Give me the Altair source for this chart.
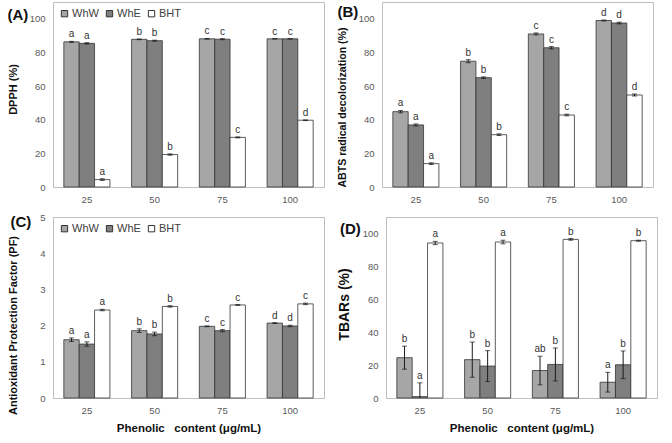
import altair as alt
import pandas as pd

concentrations = ["25", "50", "75", "100"]
extracts = ["WhW", "WhE", "BHT"]
bar_colors = ["#a6a6a6", "#7f7f7f", "#ffffff"]

# (A) DPPH radical scavenging (%)
dpph_whw = [86.3, 87.8, 88.1, 88.1]
dpph_whe = [85.4, 87.0, 87.9, 88.1]
dpph_bht = [4.4, 19.3, 29.5, 39.7]
dpph_whw_sd = [0.3, 0.2, 0.2, 0.1]
dpph_whe_sd = [0.4, 0.3, 0.3, 0.1]
dpph_bht_sd = [0.5, 0.4, 0.3, 0.2]
dpph_whw_sig = ["a", "b", "c", "c"]
dpph_whe_sig = ["a", "b", "c", "c"]
dpph_bht_sig = ["a", "b", "c", "d"]

# (B) ABTS radical decolorization (%)
abts_whw = [44.8, 74.8, 91.0, 99.0]
abts_whe = [36.9, 65.0, 82.8, 97.5]
abts_bht = [13.9, 31.1, 42.8, 54.7]
abts_whw_sd = [0.7, 0.9, 0.6, 0.3]
abts_whe_sd = [0.6, 0.5, 0.7, 0.5]
abts_bht_sd = [0.5, 0.5, 0.5, 0.6]
abts_whw_sig = ["a", "b", "c", "d"]
abts_whe_sig = ["a", "b", "c", "d"]
abts_bht_sig = ["a", "b", "c", "d"]

# (C) Antioxidant protection factor
pf_whw = [1.61, 1.86, 1.98, 2.07]
pf_whe = [1.49, 1.77, 1.86, 1.99]
pf_bht = [2.43, 2.53, 2.57, 2.60]
pf_whw_sd = [0.05, 0.05, 0.01, 0.01]
pf_whe_sd = [0.06, 0.05, 0.03, 0.02]
pf_bht_sd = [0.02, 0.02, 0.01, 0.02]
pf_whw_sig = ["a", "b", "c", "d"]
pf_whe_sig = ["a", "b", "c", "d"]
pf_bht_sig = ["a", "b", "c", "c"]

# (D) TBARs (%)
tbars_whw = [24.5, 23.3, 16.7, 9.6]
tbars_whe = [0.8, 19.4, 20.4, 20.2]
tbars_bht = [94.2, 94.8, 96.4, 95.6]
tbars_whw_sd = [7.0, 10.7, 8.7, 6.0]
tbars_whe_sd = [8.4, 9.4, 10.0, 8.4]
tbars_bht_sd = [1.0, 1.1, 0.5, 0.3]
tbars_whw_sig = ["b", "b", "ab", "a"]
tbars_whe_sig = ["a", "b", "b", "b"]
tbars_bht_sig = ["a", "a", "b", "b"]

FONT = "Liberation Sans"
X_TITLE = "Phenolic\u00a0\u00a0 content (μg/mL)"


def long_table(means, sds, sigs):
    rows = []
    for ext, m, s, g in zip(extracts, means, sds, sigs):
        for c, mv, sv, gv in zip(concentrations, m, s, g):
            rows.append({"conc": c, "extract": ext, "mean": mv,
                         "lo": mv - sv, "hi": mv + sv, "sig": gv})
    return pd.DataFrame(rows)


def panel(df, y_title, y_title_size, y_title_center, y_max, y_ticks, tag, tag_dx,
          tag_offset, height, x_title=None):
    x_axis = alt.Axis(title=x_title, labelAngle=0, ticks=False, domain=False,
                      labelPadding=7, labelFontSize=9.5, labelColor="#595959",
                      labelFont=FONT, titleFont=FONT, titleFontSize=11.5,
                      titleFontWeight="bold", titleColor="#111111", titlePadding=8)
    x_enc = alt.X("conc:N", sort=concentrations, axis=x_axis,
                  scale=alt.Scale(paddingInner=0.32, paddingOuter=0.16))
    xo_enc = alt.XOffset("extract:N", sort=extracts,
                         scale=alt.Scale(paddingInner=0, paddingOuter=0))
    y_scale = alt.Scale(domain=[0, y_max], nice=False, zero=True)
    y_axis = alt.Axis(title=y_title, values=y_ticks, ticks=False, domain=False,
                      grid=False, labelPadding=8, labelFontSize=9.5,
                      labelColor="#595959", labelFont=FONT, titleFont=FONT,
                      titleFontSize=y_title_size, titleFontWeight="bold",
                      titleColor="#111111", minExtent=26, maxExtent=26,
                      titlePadding=8.5, titleY=y_title_center)

    base = alt.Chart(df)
    bars = base.mark_bar(stroke="#333333", strokeWidth=0.8).encode(
        x=x_enc, xOffset=xo_enc,
        y=alt.Y("mean:Q", scale=y_scale, axis=y_axis),
        color=alt.Color(
            "extract:N", sort=extracts,
            scale=alt.Scale(domain=extracts, range=bar_colors),
            legend=alt.Legend(
                orient="top-left", direction="horizontal", title=None,
                symbolType="square", symbolSize=40, symbolStrokeColor="#333333",
                symbolStrokeWidth=1, symbolOpacity=1, labelFontSize=11,
                labelFont=FONT, labelColor="#404040", columnPadding=5,
                labelOffset=2, offset=6, padding=0),
        ),
    )
    err = base.mark_rule(color="#1a1a1a", strokeWidth=1, clip=True).encode(
        x=x_enc, xOffset=xo_enc,
        y=alt.Y("lo:Q", scale=y_scale, axis=y_axis), y2="hi:Q")
    cap_hi = base.mark_tick(color="#1a1a1a", thickness=1, size=5, clip=True).encode(
        x=x_enc, xOffset=xo_enc, y=alt.Y("hi:Q", scale=y_scale, axis=y_axis))
    cap_lo = base.mark_tick(color="#1a1a1a", thickness=1, size=5, clip=True).encode(
        x=x_enc, xOffset=xo_enc, y=alt.Y("lo:Q", scale=y_scale, axis=y_axis))
    letters = base.mark_text(baseline="bottom", dy=-2, fontSize=10, font=FONT,
                             color="#333333").encode(
        x=x_enc, xOffset=xo_enc,
        y=alt.Y("hi:Q", scale=y_scale, axis=y_axis), text="sig:N")

    # panel tag, pulled down beside the top of the plot frame
    return alt.layer(bars, err, cap_hi, cap_lo, letters).properties(
        width=271, height=height,
        title=alt.TitleParams(tag, anchor="start", frame="bounds", fontSize=15,
                              fontWeight="bold", font=FONT, color="#111111",
                              offset=tag_offset, dx=tag_dx),
    )


pct_ticks = [0, 20, 40, 60, 80, 100]

chart_a = panel(long_table([dpph_whw, dpph_whe, dpph_bht],
                           [dpph_whw_sd, dpph_whe_sd, dpph_bht_sd],
                           [dpph_whw_sig, dpph_whe_sig, dpph_bht_sig]),
                "DPPH (%)", 11, 87, 110, pct_ticks, "(A)", 0, -21, 185)
chart_b = panel(long_table([abts_whw, abts_whe, abts_bht],
                           [abts_whw_sd, abts_whe_sd, abts_bht_sd],
                           [abts_whw_sig, abts_whe_sig, abts_bht_sig]),
                "ABTS radical decolorization (%)", 10.6, 105, 110, pct_ticks,
                "(B)", 0, -18, 185)
chart_c = panel(long_table([pf_whw, pf_whe, pf_bht],
                           [pf_whw_sd, pf_whe_sd, pf_bht_sd],
                           [pf_whw_sig, pf_whe_sig, pf_bht_sig]),
                "Antioxidant Protection Factor (PF)", 11, 108, 5, [0, 1, 2, 3, 4, 5],
                "(C)", 3, -18, 181, x_title=X_TITLE)
chart_d = panel(long_table([tbars_whw, tbars_whe, tbars_bht],
                           [tbars_whw_sd, tbars_whe_sd, tbars_bht_sd],
                           [tbars_whw_sig, tbars_whe_sig, tbars_bht_sig]),
                "TBARs (%)", 14, 87, 110, pct_ticks, "(D)", 2.5, -20, 181,
                x_title=X_TITLE)

chart = alt.vconcat(
    alt.hconcat(chart_a, chart_b, spacing=12),
    alt.hconcat(chart_c, chart_d, spacing=12),
    spacing=7,
).resolve_legend(color="independent").resolve_scale(
    color="independent", y="independent", x="independent"
).properties(
    padding={"left": 7, "top": 1, "right": 0, "bottom": 0},
    background="white",
).configure_view(
    stroke="#bfbfbf", strokeWidth=1
)

chart.save("out.html", embed_options={"renderer": "svg", "actions": False})
